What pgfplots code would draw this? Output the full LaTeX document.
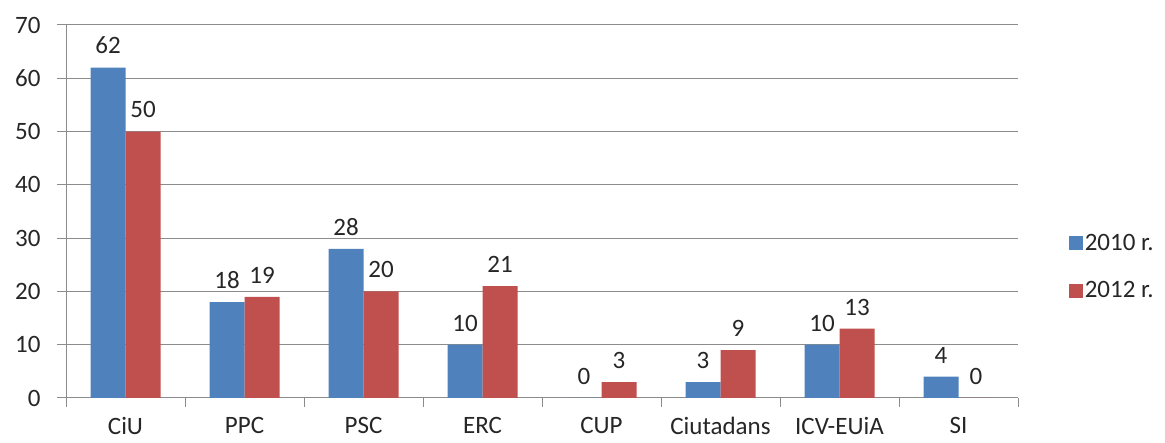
\documentclass[border=0pt]{standalone}
\usepackage{pgfplots}
\pgfplotsset{compat=1.18}
\usepackage{fontspec}
\setmainfont{Carlito}
\definecolor{sblue}{HTML}{4F81BD}
\definecolor{sred}{HTML}{C0504D}
\definecolor{gridc}{HTML}{8C8C8C}
\definecolor{txt}{HTML}{262626}
\begin{document}
\begin{tikzpicture}
\begin{axis}[
  at={(66pt,45pt)}, anchor=south west,
  scale only axis, width=952pt, height=373pt,
  ybar=0pt, bar width=35pt,
  xmin=-0.5, xmax=7.5, ymin=0, ymax=70,
  ytick={0,10,...,70},
  xtick={0,...,7},
  xticklabels={CiU,PPC,PSC,ERC,CUP,Ciutadans,ICV-EUiA,SI},
  minor xtick={-0.5,0.5,...,7.5},
  major x tick style={draw=none},
  minor x tick style={draw=gridc, line width=1pt},
  y tick style={draw=gridc, line width=1pt},
  tick align=outside,
  major tick length=9pt, minor tick length=9pt,
  axis x line*=bottom, axis y line*=left,
  axis line style={draw=gridc, line width=1pt, -},
  ymajorgrids, grid style={draw=gridc, line width=1pt},
  tick label style={font=\fontsize{25}{30}\selectfont, text=txt},
  xticklabel style={yshift=-9pt, inner sep=1pt},
  yticklabel style={xshift=-13pt},
  /pgf/number format/assume math mode=true,
  nodes near coords,
  every node near coord/.append style={font=\fontsize{25}{30}\selectfont, text=txt, yshift=10pt},
  legend style={at={(1.05,0.352)}, anchor=west, draw=none, fill=none,
    font=\fontsize{25}{30}\selectfont, text=txt, row sep=26pt,
    /tikz/every even column/.append style={column sep=1pt}},
  legend cell align=left,
  legend image code/.code={\fill[#1] (0pt,-7pt) rectangle (14pt,7pt);},
]
\addplot[fill=sblue, draw=none] coordinates {(0,62) (1,18) (2,28) (3,10) (4,0) (5,3) (6,10) (7,4)};
\addplot[fill=sred, draw=none] coordinates {(0,50) (1,19) (2,20) (3,21) (4,3) (5,9) (6,13) (7,0)};
\legend{2010 r.,2012 r.}
\end{axis}
\pgfresetboundingbox
\path (0,0) rectangle (1165pt,443pt);
\end{tikzpicture}
\end{document}
